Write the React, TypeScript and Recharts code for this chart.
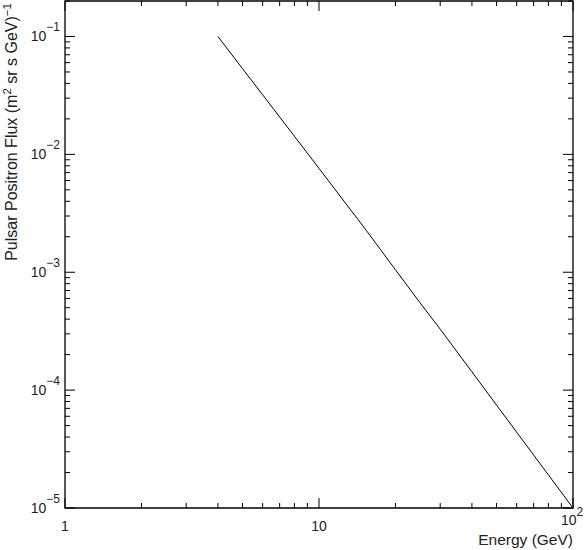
import { LineChart, Line, XAxis, YAxis, ReferenceArea } from "recharts";

const energy = [4, 5, 6, 8, 10, 15, 20, 25, 30, 40, 50, 60, 80, 100];
const flux = [0.1, 0.0533, 0.032, 0.01426, 0.0076, 0.00242, 0.00105, 0.00055, 0.000329, 0.000143, 0.0000746, 0.000044, 0.0000191, 0.00001];

const xTicks = [1, 2, 3, 4, 5, 6, 7, 8, 9, 10, 20, 30, 40, 50, 60, 70, 80, 90, 100];
const xMajor = [1, 10, 100];
const yTicks = [
  1e-5, 2e-5, 3e-5, 4e-5, 5e-5, 6e-5, 7e-5, 8e-5, 9e-5,
  1e-4, 2e-4, 3e-4, 4e-4, 5e-4, 6e-4, 7e-4, 8e-4, 9e-4,
  1e-3, 2e-3, 3e-3, 4e-3, 5e-3, 6e-3, 7e-3, 8e-3, 9e-3,
  1e-2, 2e-2, 3e-2, 4e-2, 5e-2, 6e-2, 7e-2, 8e-2, 9e-2,
  1e-1, 2e-1,
];
const yMajor = [1e-5, 1e-4, 1e-3, 1e-2, 1e-1];

const data = energy.map((e, i) => ({ energy: e, flux: flux[i] }));

const W = 588;
const H = 550;
const PL = 65;
const PR = 573;
const PT = 1;
const PB = 508;
const FONT = "'Liberation Sans', Arial, Helvetica, sans-serif";
const INK = "#222";

const isIn = (v: number, list: number[]) => list.some((m) => Math.abs(v - m) / m < 1e-6);

const YTick = (props: any) => {
  const { y, payload } = props;
  const v = payload.value as number;
  const major = isIn(v, yMajor);
  const len = major ? 10 : 5;
  const exp = Math.round(Math.log10(v));
  return (
    <g>
      <line x1={PL} x2={PL + len} y1={y} y2={y} stroke="#000" />
      <line x1={PR - len} x2={PR} y1={y} y2={y} stroke="#000" />
      {major && (
        <text x={60} y={y + 5} textAnchor="end" fontSize={14} fontFamily={FONT} fill={INK}>
          10
          <tspan dy={-10} fontSize={12}>{"\u2212" + Math.abs(exp)}</tspan>
        </text>
      )}
    </g>
  );
};

const XTick = (props: any) => {
  const { x, payload } = props;
  const v = payload.value as number;
  const major = isIn(v, xMajor);
  const len = major ? 10 : 5;
  let label = null;
  if (v === 1) {
    label = (
      <text x={x} y={531} textAnchor="middle" fontSize={14} fontFamily={FONT} fill={INK}>1</text>
    );
  } else if (v === 10) {
    label = (
      <text x={x} y={531} textAnchor="middle" fontSize={14} fontFamily={FONT} fill={INK}>10</text>
    );
  } else if (v === 100) {
    label = (
      <text x={x - 12} y={525} textAnchor="start" fontSize={14} fontFamily={FONT} fill={INK}>
        10
        <tspan dy={-9} fontSize={12}>2</tspan>
      </text>
    );
  }
  return (
    <g>
      <line x1={x} x2={x} y1={PB - len} y2={PB} stroke="#000" />
      <line x1={x} x2={x} y1={PT} y2={PT + len} stroke="#000" />
      {label}
    </g>
  );
};

const XTitle = () => (
  <text x={PR} y={545} textAnchor="end" fontSize={15.5} fontFamily={FONT} fill={INK}>
    Energy (GeV)
  </text>
);

const YTitle = () => (
  <text transform="translate(17,3) rotate(-90)" x={0} y={0} textAnchor="end" fontSize={16} fontFamily={FONT} fill={INK}>
    Pulsar Positron Flux (m
    <tspan dy={-6} fontSize={11.5}>2</tspan>
    <tspan dy={6}> sr s GeV)</tspan>
    <tspan dy={-6} fontSize={11.5}>{"\u22121"}</tspan>
  </text>
);

export default function App() {
  return (
    <div style={{ position: "absolute", left: 0, top: 0, width: W, height: H, background: "#fff" }}>
      <LineChart width={W} height={H} data={data} margin={{ top: PT, right: W - PR, bottom: H - PB - 1, left: PL - 1 }}>
        <XAxis
          dataKey="energy"
          type="number"
          scale="log"
          domain={[1, 100]}
          ticks={xTicks}
          interval={0}
          allowDataOverflow
          height={1}
          axisLine={false}
          tickLine={false}
          tick={<XTick />}
          label={{ content: () => <XTitle /> }}
        />
        <YAxis
          dataKey="flux"
          type="number"
          scale="log"
          domain={[1e-5, 0.2]}
          ticks={yTicks}
          interval={0}
          allowDataOverflow
          width={1}
          axisLine={false}
          tickLine={false}
          tick={<YTick />}
          label={{ content: () => <YTitle /> }}
        />
        <ReferenceArea x1={1} x2={100} y1={1e-5} y2={0.2} fill="none" stroke="#000" strokeWidth={1.3} />
        <Line type="linear" dataKey="flux" stroke="#000" strokeWidth={1} dot={false} isAnimationActive={false} />
      </LineChart>
    </div>
  );
}
